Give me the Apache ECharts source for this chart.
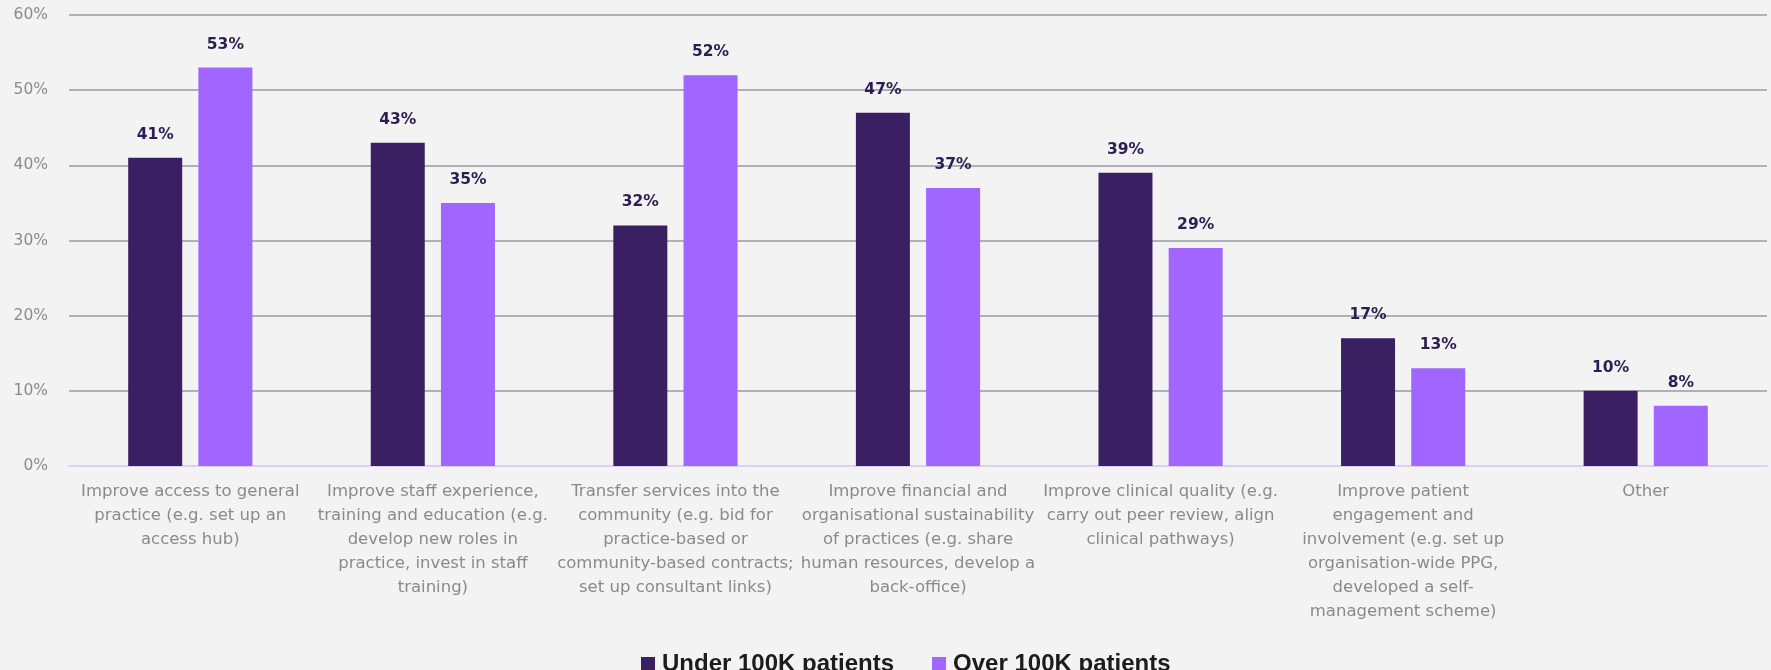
<!DOCTYPE html>
<html>
<head>
<meta charset="utf-8">
<title>PCN priorities by practice size</title>
<script src="https://cdn.jsdelivr.net/npm/echarts@6/dist/echarts.min.js"></script>
<style>
  html, body { margin: 0; padding: 0; background: #f3f3f3; }
  #chart { width: 1771px; height: 670px; }
</style>
</head>
<body>
<div id="chart"></div>
<script>
// Aims of the network, split by practice population size
const categories = [
  'Improve access to general\npractice (e.g. set up an\naccess hub)',
  'Improve staff experience,\ntraining and education (e.g.\ndevelop new roles in\npractice, invest in staff\ntraining)',
  'Transfer services into the\ncommunity (e.g. bid for\npractice-based or\ncommunity-based contracts;\nset up consultant links)',
  'Improve financial and\norganisational sustainability\nof practices (e.g. share\nhuman resources, develop a\nback-office)',
  'Improve clinical quality (e.g.\ncarry out peer review, align\nclinical pathways)',
  'Improve patient\nengagement and\ninvolvement (e.g. set up\norganisation-wide PPG,\ndeveloped a self-\nmanagement scheme)',
  'Other'
];
const seriesNames = ['Under 100K patients', 'Over 100K patients'];
const underValues = [41, 43, 32, 47, 39, 17, 10];
const overValues = [53, 35, 52, 37, 29, 13, 8];
const yTicks = [0, 10, 20, 30, 40, 50, 60];

const dark = '#3a2063';
const light = '#a066ff';

const labelStyle = {
  show: true,
  position: 'top',
  distance: 15,
  formatter: p => p.value + '%',
  fontFamily: 'DejaVu Sans',
  fontWeight: 'bold',
  fontSize: 15.5,
  color: '#2e1d52'
};

const chart = echarts.init(document.getElementById('chart'), null, { renderer: 'canvas' });
chart.setOption({
  backgroundColor: '#f3f3f3',
  animation: false,
  grid: { left: 69, right: 4, top: 15, bottom: 204, containLabel: false },
  legend: {
    data: seriesNames,
    left: 636,
    top: 647,
    itemWidth: 14,
    itemHeight: 14,
    itemGap: 38,
    icon: 'rect',
    textStyle: {
      fontFamily: 'Liberation Sans',
      fontWeight: 'bold',
      fontSize: 24,
      color: '#1c1c1c',
      padding: [0, 0, 0, 2]
    }
  },
  xAxis: {
    type: 'category',
    data: categories,
    axisTick: { show: false },
    axisLine: { show: true, lineStyle: { color: '#dccff5', width: 2 } },
    axisLabel: {
      interval: 0,
      margin: 14,
      fontFamily: 'DejaVu Sans',
      fontSize: 16.5,
      lineHeight: 24,
      color: '#8a8a8a',
      align: 'center'
    }
  },
  yAxis: {
    type: 'value',
    min: yTicks[0],
    max: yTicks[yTicks.length - 1],
    interval: 10,
    axisLine: { show: false },
    axisTick: { show: false },
    axisLabel: {
      margin: 21,
      formatter: v => v + '%',
      fontFamily: 'DejaVu Sans',
      fontSize: 15.5,
      color: '#8a8a92'
    },
    splitLine: { show: true, lineStyle: { color: '#9a9aa6', width: 1.6 } }
  },
  series: [
    {
      name: seriesNames[0],
      type: 'bar',
      data: underValues,
      barWidth: 54,
      barGap: '30%',
      itemStyle: { color: dark },
      label: labelStyle,
      z: 3
    },
    {
      name: seriesNames[1],
      type: 'bar',
      data: overValues,
      barWidth: 54,
      barGap: '30%',
      itemStyle: { color: light },
      label: labelStyle,
      z: 3
    }
  ]
});
</script>
</body>
</html>
